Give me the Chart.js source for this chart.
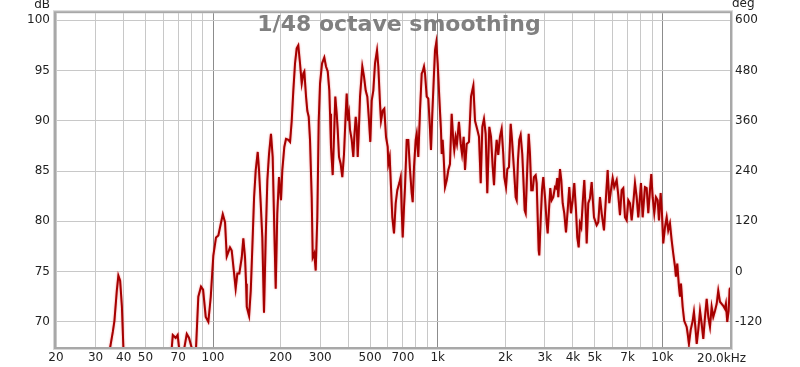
<!DOCTYPE html>
<html>
<head>
<meta charset="utf-8">
<script src="https://cdn.jsdelivr.net/npm/chart.js@4.4.1/dist/chart.umd.min.js"></script>
<style>
  html, body { margin: 0; padding: 0; background: #fff; }
  #wrap { width: 800px; height: 367px; }
</style>
</head>
<body>
<div id="wrap"><canvas id="fr" width="800" height="367"></canvas></div>
<script>
// ---- data ----
const chartTitle = "1/48 octave smoothing";

const freqHz = [
  33.5, 34.8, 35.8, 36.4, 37.3, 37.9, 38.6, 39.3, 39.9, 40.8,
  64.3, 65.5, 66.2, 68.2, 69.6, 70.6, 71.8, 73.3, 74.5, 76.4, 78.2, 80.4, 81.6,
  82.8, 84.0, 86.0, 88.4, 90.3, 92.8, 95.3, 97.7, 100.3, 103.1, 105.6, 110.5,
  113.1, 115.1, 119.0, 121.1, 126.1, 128.3, 130.9, 134.2, 136.4, 138.8, 140.3,
  141.3, 144.7, 147.2, 149.6, 152.3, 154.9, 158.1, 160.2, 163.0, 165.7, 168.6,
  171.6, 174.5, 177.5, 181.1, 184.3, 187.4, 190.1, 193.2, 196.6, 200.7, 203.4,
  207.6, 211.3, 216.4, 220.2, 224.0, 227.7, 231.7, 235.7, 239.6, 243.9, 248.2,
  252.3, 254.9, 259.4, 262.8, 266.6, 270.2, 274.9, 277.8, 282.3, 286.4, 291.2,
  295.4, 299.4, 305.6, 312.8, 318.3, 324.0, 329.3, 331.7, 335.0, 340.9, 345.5,
  350.1, 355.2, 358.9, 363.7, 370.0, 376.2, 382.8, 389.5, 393.5, 398.8, 402.9,
  407.1, 414.3, 421.1, 425.4, 431.6, 436.1, 440.5, 445.1, 451.1, 461.8, 469.9,
  478.1, 486.1, 494.6, 501.2, 508.5, 516.9, 526.0, 536.9, 544.1, 553.7, 559.3,
  569.1, 578.5, 588.7, 599.0, 602.8, 611.5, 619.6, 628.0, 639.0, 650.2, 661.0,
  674.7, 684.4, 691.5, 698.6, 708.0, 715.4, 727.9, 739.8, 752.9, 766.1, 774.0,
  784.4, 798.1, 806.4, 819.7, 834.2, 848.8, 857.6, 869.1, 878.1, 893.4, 908.2,
  921.3, 933.6, 946.2, 959.9, 972.8, 985.7, 1000, 1016, 1034, 1042, 1052, 1063,
  1078, 1097, 1115, 1134, 1154, 1173, 1185, 1202, 1218, 1243, 1266, 1283, 1305,
  1323, 1346, 1378, 1407, 1441, 1466, 1501, 1527, 1554, 1580, 1607, 1635, 1662,
  1697, 1727, 1757, 1781, 1804, 1830, 1860, 1893, 1926, 1958, 1979, 2014, 2041,
  2076, 2113, 2142, 2186, 2224, 2247, 2277, 2307, 2340, 2379, 2404, 2439, 2464,
  2505, 2541, 2575, 2609, 2647, 2682, 2729, 2758, 2786, 2815, 2832, 2873, 2912,
  2951, 3003, 3056, 3087, 3128, 3170, 3216, 3269, 3327, 3361, 3406, 3441, 3502,
  3549, 3600, 3659, 3724, 3789, 3852, 3920, 3988, 4054, 4126, 4181, 4241, 4297,
  4356, 4419, 4492, 4556, 4604, 4680, 4762, 4846, 4962, 5100, 5185, 5276, 5369,
  5497, 5610, 5709, 5803, 5905, 6009, 6108, 6260, 6364, 6476, 6590, 6699, 6816,
  6937, 7051, 7175, 7301, 7422, 7552, 7685, 7812, 7949, 8031, 8172, 8367, 8514,
  8655, 8807, 8925, 9054, 9203, 9365, 9530, 9658, 9827, 9959, 10090, 10270,
  10450, 10620, 10810, 11000, 11180, 11380, 11490, 11650, 11850, 11980, 12100,
  12310, 12510, 12830, 12960, 13130, 13370, 13640, 13820, 14020, 14220, 14450,
  14710, 14960, 15210, 15480, 15750, 16010, 16290, 16570, 16850, 17150, 17450,
  17730, 18040, 18360, 18660, 18990, 19180, 19440, 19720, 19920, 20000
];

const splDb = [
  60, 67.4, 69.0, 70.1, 73.1, 74.6, 74.1, 71.5, 67.4, 60,
  60, 67.4, 68.7, 68.4, 68.7, 67.4, 60, 60, 67.4, 68.8, 68.4, 67.4, 60,
  60, 67.4, 72.5, 73.5, 73.2, 70.5, 70.0, 72.5, 76.6, 78.4, 78.6, 80.7,
  79.9, 76.5, 77.4, 77.1, 73.3, 74.8, 74.8, 76.4, 78.3, 76.4, 73.8,
  71.5, 70.6, 73.1, 77.4, 82.4, 85.1, 86.9, 85.1, 81.8, 78.4, 70.9,
  78.4, 84.1, 86.7, 88.7, 86.4, 79.1, 73.3, 80.8, 84.4, 82.1, 85.1,
  87.4, 88.2, 88.1, 87.9, 90.0, 93.0, 95.7, 97.2, 97.5, 95.7, 93.7,
  94.7, 94.9, 92.4, 91.0, 90.4, 88.1, 82.4, 76.4, 76.8, 75.1, 80.4,
  90.0, 93.7, 95.7, 96.3, 95.4, 94.9, 93.0, 90.7, 87.4, 84.6, 88.4,
  92.4, 90.7, 89.1, 86.4, 85.7, 84.4, 86.7, 90.7, 92.7, 90.0, 90.7,
  89.1, 88.1, 86.4, 88.4, 90.4, 89.4, 86.4, 88.7, 92.4, 95.4, 94.4,
  93.0, 92.4, 90.0, 87.9, 92.0, 93.0, 95.7, 97.0, 95.4, 91.7, 90.0,
  91.0, 91.2, 88.4, 87.4, 85.7, 86.4, 83.4, 80.4, 78.8, 81.8, 83.1,
  83.8, 84.4, 81.1, 78.4, 81.4, 83.4, 88.1, 88.1, 85.1, 82.8, 81.9,
  85.4, 88.1, 88.7, 86.4, 91.0, 94.7, 94.9, 95.4, 94.7, 92.4, 92.2,
  89.7, 87.1, 90.7, 94.0, 97.0, 97.8, 95.7, 92.4, 89.1, 86.7, 88.1, 86.4,
  83.4, 84.1, 85.1, 85.7, 90.7, 88.1, 87.1, 88.4, 87.7, 89.9, 87.7, 86.7, 88.4,
  85.1, 87.7, 87.9, 92.4, 93.5, 90.0, 89.1, 88.4, 83.8, 89.4, 90.2, 88.7, 82.8,
  89.4, 88.4, 85.4, 83.6, 86.4, 88.1, 86.6, 88.4, 89.2, 86.7, 84.4, 83.4, 85.2,
  85.4, 89.7, 88.1, 85.1, 82.4, 82.1, 86.1, 88.1, 88.6, 86.7, 84.4, 81.1, 80.8,
  85.4, 88.7, 86.7, 83.1, 83.1, 84.4, 84.6, 83.8, 80.4, 77.1, 76.6, 80.1, 83.1,
  84.4, 82.4, 79.8, 78.8, 81.1, 83.3, 82.1, 82.4, 83.4, 83.3, 84.3, 82.4, 85.2,
  84.1, 81.8, 80.8, 78.9, 81.1, 83.4, 80.8, 82.1, 83.8, 81.1, 78.4, 77.4, 79.8,
  79.4, 81.8, 84.1, 81.1, 77.8, 81.8, 82.3, 83.9, 80.4, 79.6, 79.9, 82.4, 80.8,
  79.1, 82.4, 85.1, 81.8, 83.1, 84.3, 83.4, 84.1, 82.6, 80.6, 83.1, 83.3, 80.4,
  80.1, 82.1, 81.8, 80.1, 81.8, 83.8, 82.4, 80.4, 82.4, 83.8, 80.4, 83.4, 83.3,
  80.8, 83.1, 84.7, 82.4, 80.8, 82.4, 82.1, 80.1, 82.8, 80.8, 77.8, 79.4,
  80.4, 79.1, 79.8, 78.1, 76.8, 75.5, 74.5, 75.8, 73.5, 72.5, 73.8,
  71.5, 70.1, 69.5, 68.8, 67.8, 69.2, 70.1, 71.0, 69.5, 67.8, 69.2,
  71.1, 69.8, 68.3, 70.5, 72.3, 70.5, 69.5, 71.5, 70.5, 71.1, 71.8,
  73.1, 72.0, 71.8, 71.6, 71.3, 71.8, 70.0, 71.1, 73.2, 73.4
];

const dbTicks = [70, 75, 80, 85, 90, 95, 100];
const degTicks = [-120, 0, 120, 240, 360, 480, 600];

const freqGrid = [20, 30, 40, 50, 60, 70, 80, 90, 100, 200, 300, 400, 500, 600, 700, 800, 900,
  1000, 2000, 3000, 4000, 5000, 6000, 7000, 8000, 9000, 10000, 20000];
const freqLabels = ["20", "30", "40", "50", "", "70", "", "", "100", "200", "300", "", "500", "", "700", "", "",
  "1k", "2k", "3k", "4k", "5k", "", "7k", "", "", "10k", "20.0kHz"];
const decades = [100, 1000, 10000];

// ---- chart ----
const FONT = { family: "'DejaVu Sans', sans-serif", size: 12 };
const GRID = "#c8c8c8";

const framePlugin = {
  id: "frame",
  afterDraw(chart) {
    const { ctx, chartArea: a } = chart;
    ctx.save();
    // bevelled plot frame
    ctx.strokeStyle = "#d6d6d6";
    ctx.lineWidth = 1;
    ctx.strokeRect(a.left - 2.5, a.top - 2.5, a.right - a.left + 5, a.bottom - a.top + 5);
    ctx.strokeStyle = "#a8a8a8";
    ctx.lineWidth = 2;
    ctx.strokeRect(a.left - 1, a.top - 1, a.right - a.left + 2, a.bottom - a.top + 2);

    // title inside the plot
    ctx.font = "bold 22px 'DejaVu Sans', sans-serif";
    ctx.textAlign = "center";
    ctx.textBaseline = "alphabetic";
    ctx.fillStyle = "#808080";
    ctx.fillText(chartTitle, 399, 31);

    // unit labels
    ctx.font = "12px 'DejaVu Sans', sans-serif";
    ctx.fillStyle = "#222";
    ctx.textAlign = "right";
    ctx.fillText("dB", a.left - 6, 8);
    ctx.textAlign = "left";
    ctx.fillText("deg", a.right + 2, 7);

    // last frequency label sits left of its tick
    const xs = chart.scales.x;
    const last = freqGrid.length - 1;
    ctx.fillText(freqLabels[last], xs.getPixelForValue(freqGrid[last]) - 33, a.bottom + 15);
    ctx.restore();
  }
};

const glowPlugin = {
  id: "glow",
  beforeDatasetDraw(chart) {
    const ctx = chart.ctx;
    ctx.save();
    ctx.shadowColor = "rgba(230,80,80,0.7)";
    ctx.shadowBlur = 2;
  },
  afterDatasetDraw(chart) {
    chart.ctx.restore();
  }
};

new Chart(document.getElementById("fr"), {
  type: "line",
  data: {
    datasets: [{
      data: freqHz.map((f, i) => ({ x: f, y: splDb[i] })),
      borderColor: "#a60000",
      borderWidth: 2,
      pointRadius: 0,
      tension: 0,
      yAxisID: "y"
    }]
  },
  options: {
    responsive: false,
    animation: false,
    events: [],
    devicePixelRatio: 1,
    layout: { padding: { top: 13, left: 0, right: 0, bottom: 0 } },
    plugins: { legend: { display: false }, tooltip: { enabled: false }, title: { display: false } },
    scales: {
      x: {
        type: "logarithmic",
        min: 20,
        max: 20000,
        afterBuildTicks: s => { s.ticks = freqGrid.map(v => ({ value: v })); },
        afterFit: s => { s.height = 20; },
        ticks: {
          autoSkip: false, maxRotation: 0, minRotation: 0, padding: 4,
          color: "#222", font: FONT,
          callback: (v, i) => (i === freqGrid.length - 1 ? "" : freqLabels[i])
        },
        grid: {
          drawTicks: false,
          color: c => (c.tick && decades.includes(c.tick.value) ? "#8c8c8c" : GRID)
        },
        border: { display: false }
      },
      y: {
        type: "linear",
        position: "left",
        min: 67.5,
        max: 100.7,
        afterBuildTicks: s => { s.ticks = dbTicks.map(v => ({ value: v })); },
        afterFit: s => { s.width = 56; },
        ticks: { padding: 6, color: "#222", font: FONT },
        grid: { drawTicks: false, color: GRID },
        border: { display: false }
      },
      yDeg: {
        type: "linear",
        position: "right",
        min: -180,
        max: 616.8,
        afterBuildTicks: s => { s.ticks = degTicks.map(v => ({ value: v })); },
        afterFit: s => { s.width = 70; },
        ticks: { padding: 5, color: "#222", font: FONT },
        grid: { display: false, drawTicks: false },
        border: { display: false }
      }
    }
  },
  plugins: [glowPlugin, framePlugin]
});
</script>
</body>
</html>
